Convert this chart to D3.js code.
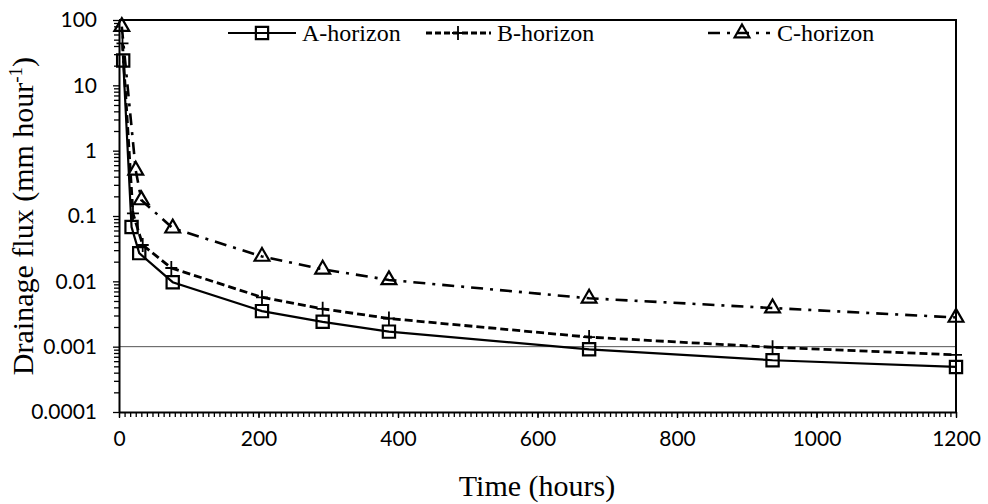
<!DOCTYPE html>
<html>
<head>
<meta charset="utf-8">
<script src="https://cdn.jsdelivr.net/npm/d3@7"></script>
<style>
  body { margin: 0; background: #fff; }
  svg { display: block; }
</style>
</head>
<body>
<svg id="chart" width="988" height="504"></svg>
<script>
// Drainage flux after wetting, per soil horizon (time in hours, flux in mm/hour)
const hoursA = [6, 18, 29, 77, 205, 292, 387, 674, 937, 1200];
const fluxA  = [24, 0.068, 0.027, 0.0097, 0.0035, 0.0024, 0.0017, 0.00091, 0.00062, 0.00049];

const hoursB = [5, 20, 34, 75, 205, 292, 387, 674, 937, 1200];
const fluxB  = [44, 0.11, 0.036, 0.016, 0.0057, 0.0038, 0.0027, 0.0014, 0.00098, 0.00075];

const hoursC = [4, 24, 32, 77, 205, 292, 387, 674, 937, 1200];
const fluxC  = [79, 0.5, 0.176, 0.065, 0.024, 0.0153, 0.0105, 0.0055, 0.0039, 0.0028];

const seriesNames = ["A-horizon", "B-horizon", "C-horizon"];
const xTicks = [0, 200, 400, 600, 800, 1000, 1200];
const yTicks = [0.0001, 0.001, 0.01, 0.1, 1, 10, 100];
const xTitle = "Time (hours)";

const svg = d3.select("#chart");
const plotLeft = 119, plotRight = 956, plotTop = 20, plotBottom = 412;

const x = d3.scaleLinear().domain([0, 1200]).range([plotLeft, plotRight]);
const y = d3.scaleLog().domain([0.0001, 100]).range([plotBottom, plotTop]);

const sansFont = "Lato, 'Open Sans', sans-serif";
const serifFont = "'Liberation Serif', 'DejaVu Serif', serif";

// minor ticks: 2..9 within each decade, and every 8 hours along the time axis
const yMinor = [];
for (let e = -4; e < 2; e++) for (let m = 2; m <= 9; m++) yMinor.push(m * Math.pow(10, e));
const xMinor = d3.range(0, 1200 + 1e-9, 8);

// thin reference line at 0.001
svg.append("line")
  .attr("x1", plotLeft).attr("x2", plotRight)
  .attr("y1", y(0.001)).attr("y2", y(0.001))
  .attr("stroke", "#555").attr("stroke-width", 1);

// frame (top and right)
svg.append("path")
  .attr("d", `M${plotLeft},${plotTop}H${plotRight}V${plotBottom}`)
  .attr("fill", "none").attr("stroke", "#000").attr("stroke-width", 2);

// Y axis
const yMinorG = svg.append("g").attr("transform", `translate(${plotLeft},0)`)
  .call(d3.axisLeft(y).tickValues(yMinor).tickSize(5).tickFormat(""));
yMinorG.select(".domain").remove();
const yAxisG = svg.append("g").attr("transform", `translate(${plotLeft},0)`)
  .call(d3.axisLeft(y).tickValues(yTicks).tickSize(6).tickSizeOuter(0)
    .tickPadding(16).tickFormat(d => String(d)));
yAxisG.selectAll("text").attr("font-family", sansFont).attr("font-size", 21).attr("fill", "#000");

// X axis
const xMinorG = svg.append("g").attr("transform", `translate(0,${plotBottom})`)
  .call(d3.axisBottom(x).tickValues(xMinor).tickSize(5).tickFormat(""));
xMinorG.select(".domain").remove();
const xAxisG = svg.append("g").attr("transform", `translate(0,${plotBottom})`)
  .call(d3.axisBottom(x).tickValues(xTicks).tickSize(6).tickSizeOuter(0)
    .tickPadding(13).tickFormat(d => String(d)));
xAxisG.selectAll("text").attr("font-family", sansFont).attr("font-size", 21).attr("fill", "#000");

svg.selectAll(".domain").attr("stroke", "#000").attr("stroke-width", 2);
svg.selectAll(".tick line").attr("stroke", "#000").attr("stroke-width", 1.3);

// Axis titles
svg.append("text")
  .attr("x", 537).attr("y", 496)
  .attr("text-anchor", "middle")
  .attr("font-family", serifFont).attr("font-size", 30)
  .text(xTitle);

const yTitle = svg.append("text")
  .attr("transform", `translate(33,${(plotTop + plotBottom) / 2}) rotate(-90)`)
  .attr("text-anchor", "middle")
  .attr("font-family", serifFont).attr("font-size", 30);
yTitle.append("tspan").text("Drainage flux (mm hour");
yTitle.append("tspan").attr("font-size", 19).attr("dy", -11).text("-1");
yTitle.append("tspan").attr("dy", 11).text(")");

// Series
const squarePath = d3.symbol().type(d3.symbolSquare).size(150)();
const trianglePath = d3.symbol().type(d3.symbolTriangle).size(95)();
const plusPath = "M-6,0H6M0,-7V7";

const series = [
  { name: seriesNames[0], hours: hoursA, flux: fluxA, dash: null, width: 2.2, marker: squarePath, mw: 2.2 },
  { name: seriesNames[1], hours: hoursB, flux: fluxB, dash: "8,4", width: 2.8, marker: plusPath, mw: 1.8 },
  { name: seriesNames[2], hours: hoursC, flux: fluxC, dash: "12,7,3,7", width: 2.6, marker: trianglePath, mw: 2.2 }
];

const line = d3.line().x(d => x(d[0])).y(d => y(d[1]));

series.forEach(s => {
  const pts = s.hours.map((h, i) => [h, s.flux[i]]);
  svg.append("path")
    .datum(pts)
    .attr("d", line)
    .attr("fill", "none")
    .attr("stroke", "#000")
    .attr("stroke-width", s.width)
    .attr("stroke-dasharray", s.dash);
  svg.append("g").selectAll("path")
    .data(pts).join("path")
    .attr("transform", d => `translate(${x(d[0])},${y(d[1])})`)
    .attr("d", s.marker)
    .attr("fill", "none")
    .attr("stroke", "#000")
    .attr("stroke-width", s.mw);
});

// Legend: sample line start, sample length, marker offset, text start
const legendItems = [
  { x0: 228, len: 68, mark: 34, tx: 302, dash: null },
  { x0: 426, len: 65, mark: 32, tx: 497, dash: "6,3" },
  { x0: 708, len: 62, mark: 34, tx: 777, dash: "12,7,3,7" }
];
series.forEach((s, i) => {
  const it = legendItems[i];
  const g = svg.append("g").attr("transform", `translate(${it.x0},33)`);
  g.append("line").attr("x1", 0).attr("x2", it.len).attr("y1", 0).attr("y2", 0)
    .attr("stroke", "#000").attr("stroke-width", s.width)
    .attr("stroke-dasharray", it.dash);
  g.append("path").attr("transform", `translate(${it.mark},0)`).attr("d", s.marker)
    .attr("fill", "none").attr("stroke", "#000").attr("stroke-width", s.mw);
  g.append("text").attr("x", it.tx - it.x0).attr("y", 8)
    .attr("font-family", serifFont).attr("font-size", 24)
    .text(s.name);
});
</script>
</body>
</html>
